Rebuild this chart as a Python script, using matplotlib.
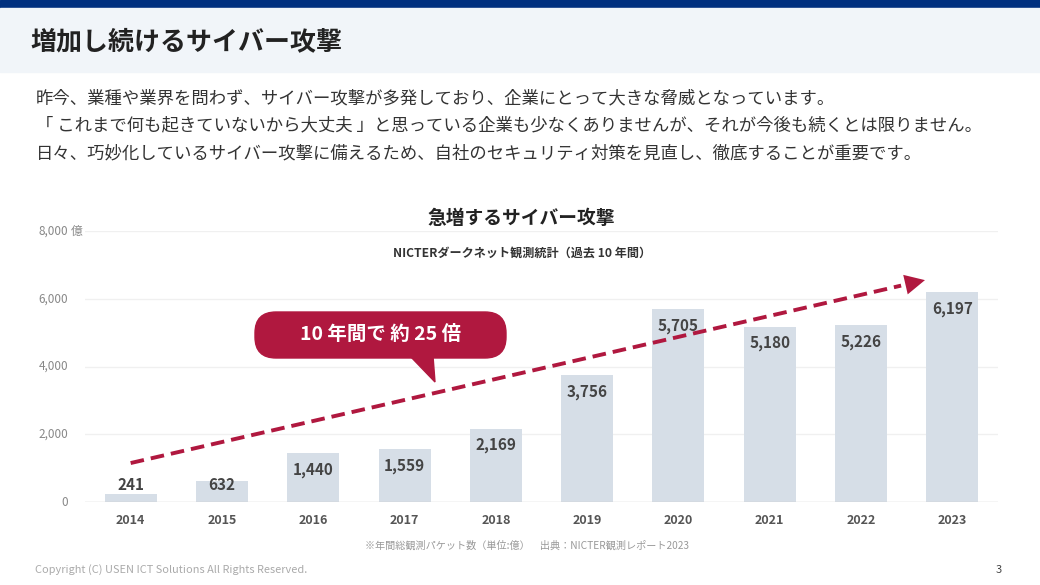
import matplotlib
matplotlib.use("Agg")
import matplotlib.pyplot as plt
from matplotlib.patches import Rectangle, FancyBboxPatch, Polygon
from matplotlib.transforms import IdentityTransform
import numpy as np

plt.rcParams['font.family'] = ['Noto Sans CJK JP', 'DejaVu Sans']

# データ
years = ['2014', '2015', '2016', '2017', '2018', '2019', '2020', '2021', '2022', '2023']
packets = [241, 632, 1440, 1559, 2169, 3756, 5705, 5180, 5226, 6197]
yticks = [0, 2000, 4000, 6000, 8000]
trend_start = (0, 1150)
trend_end = (8.7, 6550)

W, H = 1040, 585
CRIMSON = '#b0183f'
BAR = '#d6dee7'

fig = plt.figure(figsize=(W / 100, H / 100), dpi=100)
fig.patch.set_facecolor('white')
pix = IdentityTransform()


def py(y):
    # ピクセル座標(上から)を表示座標へ
    return H - y


# ヘッダー
fig.patches.append(Rectangle((0, py(8)), W, 8, transform=pix, color='#00307f', zorder=0))
fig.patches.append(Rectangle((0, py(72)), W, 64, transform=pix, color='#f1f5f9', zorder=0))
fig.text(30, py(42), '増加し続けるサイバー攻撃', transform=pix, fontsize=18.7, fontweight='bold',
         color='#222222', va='center', ha='left')

# 本文
lines = [
    '昨今、業種や業界を問わず、サイバー攻撃が多発しており、企業にとって大きな脅威となっています。',
    '「 これまで何も起きていないから大丈夫 」と思っている企業も少なくありませんが、それが今後も続くとは限りません。',
    '日々、巧妙化しているサイバー攻撃に備えるため、自社のセキュリティ対策を見直し、徹底することが重要です。',
]
for i, t in enumerate(lines):
    fig.text(36, py(98 + i * 27.5), t, transform=pix, fontsize=12.5, color='#333333',
             va='center', ha='left')

# グラフ
ax = fig.add_axes([85 / W, 1 - 502 / H, (998 - 85) / W, (502 - 231) / H])
x = np.arange(len(years))
ax.bar(x, packets, width=0.57, color=BAR, zorder=2)
ax.set_xlim(-0.5, 9.5)
ax.set_ylim(0, 8000)
for s in ax.spines.values():
    s.set_visible(False)
ax.axhline(0, color='#cccccc', lw=1, zorder=3)
for t in yticks[1:]:
    ax.axhline(t, color='#f0f0f0', lw=1, zorder=1)
ax.set_yticks([])
ax.set_xticks(x)
ax.set_xticklabels(years, fontsize=9, fontweight='bold', color='#555555')
ax.tick_params(axis='x', length=0, pad=9)

# 目盛りラベル(右揃え、最上段に単位)
for t in yticks:
    yy = ax.transData.transform((0, t))[1]
    fig.text(68, yy, f'{t:,}', transform=pix, fontsize=8.5, color='#888888', ha='right', va='center')
yy = ax.transData.transform((0, yticks[-1]))[1]
fig.text(71, yy, '億', transform=pix, fontsize=8.5, color='#888888', ha='left', va='center')

for xi, v in zip(x, packets):
    ax.text(xi, max(v - 500, 500), f'{v:,}', ha='center', va='center', fontsize=11,
            fontweight='bold', color='#444444', zorder=4)

# トレンド矢印
dx = trend_end[0] - trend_start[0]
dy = trend_end[1] - trend_start[1]
base = (trend_end[0] - dx * 0.03, trend_end[1] - dy * 0.03)
ax.plot([trend_start[0], base[0]], [trend_start[1], base[1]], color=CRIMSON, lw=2.8,
        dashes=(3.5, 1.8), zorder=5, solid_capstyle='butt', dash_capstyle='butt')
ax.annotate('', xy=trend_end, xytext=base,
            arrowprops=dict(arrowstyle='-|>,head_length=0.8,head_width=0.4', color=CRIMSON,
                            lw=0, mutation_scale=18, shrinkA=0, shrinkB=0), zorder=6)

# タイトル
fig.text(521, py(219), '急増するサイバー攻撃', transform=pix, fontsize=13.5, fontweight='bold',
         color='#222222', ha='center', va='center')
fig.text(522, py(253), 'NICTERダークネット観測統計（過去 10 年間）', transform=pix, fontsize=8.7,
         fontweight='bold', color='#333333', ha='center', va='center')

# 吹き出し
fig.patches.append(FancyBboxPatch((255, py(358)), 251, 46, transform=pix,
                                  boxstyle='round,pad=0,rounding_size=21', color=CRIMSON, zorder=7))
fig.patches.append(Polygon([(410, py(356)), (433, py(356)), (435, py(382))], closed=True,
                           transform=pix, color=CRIMSON, zorder=7))
fig.text(381, py(334), '10 年間で 約 25 倍', transform=pix, fontsize=14, fontweight='bold',
         color='white', ha='center', va='center', zorder=8)

# 注記・フッター
fig.text(527, py(546), '※年間総観測パケット数（単位:億）　出典：NICTER観測レポート2023', transform=pix,
         fontsize=7.3, color='#999999', ha='center', va='center')
fig.text(35, py(570), 'Copyright (C) USEN ICT Solutions All Rights Reserved.', transform=pix,
         fontsize=7.9, color='#aaaaaa', ha='left', va='center')
fig.text(1002, py(570), '3', transform=pix, fontsize=8, color='#444444', ha='right', va='center')

fig.savefig('out.png', dpi=100)
